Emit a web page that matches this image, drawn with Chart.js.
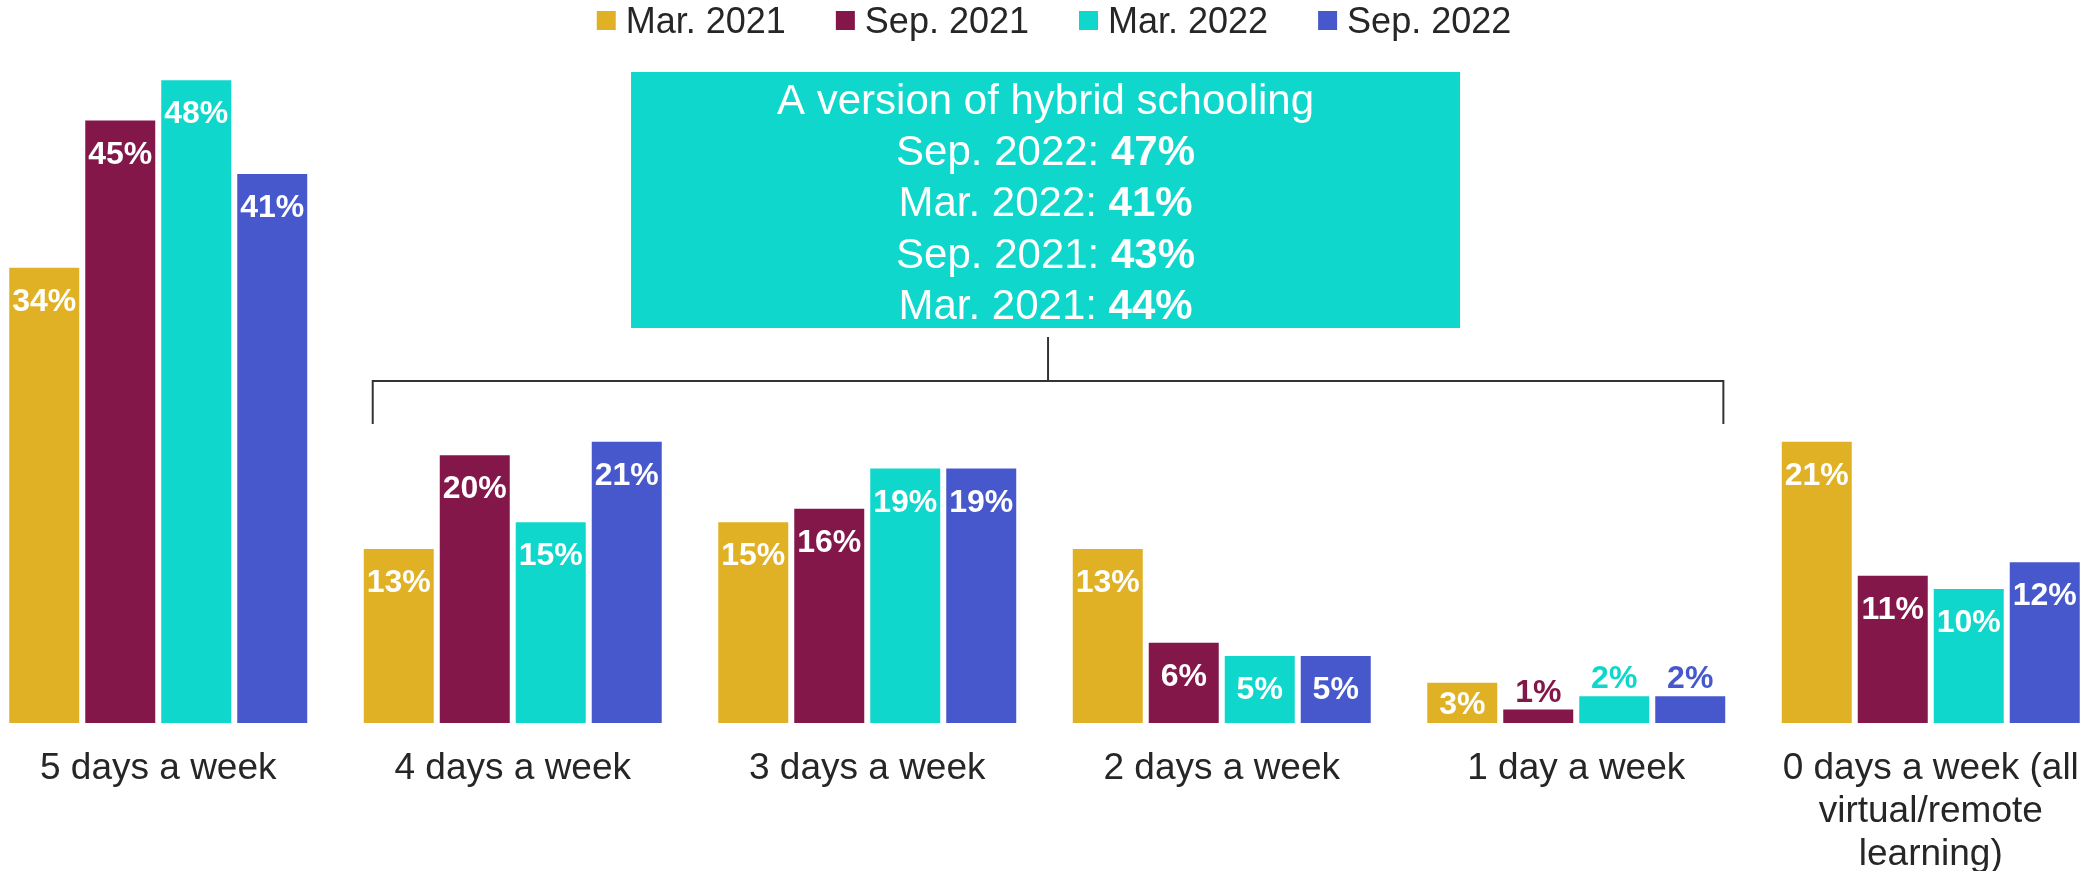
<!DOCTYPE html>
<html>
<head>
<meta charset="utf-8">
<script src="https://cdn.jsdelivr.net/npm/chart.js@4.4.1/dist/chart.umd.min.js"></script>
<style>
  html, body { margin: 0; padding: 0; background: #fff; overflow: hidden; }
  #wrap { position: relative; width: 2081px; height: 871px; overflow: hidden; }
  #grafico { position: absolute; left: -19px; top: 0; }
</style>
</head>
<body>
<div id="wrap">
  <canvas id="grafico" width="2127" height="871"></canvas>
</div>
<script>
const FONT = '"Liberation Sans", Arial, sans-serif';
const SHIFT = 19; // canvas starts 19px left of the page

const categories = [
    '5 days a week',
    '4 days a week',
    '3 days a week',
    '2 days a week',
    '1 day a week',
    ['0 days a week (all', 'virtual/remote', 'learning)']
];
const seriesNames = ['Mar. 2021', 'Sep. 2021', 'Mar. 2022', 'Sep. 2022'];
const seriesColors = ['#E1B125', '#84174A', '#0FD7CC', '#4758CC'];

const mar2021 = [34, 13, 15, 13, 3, 21];
const sep2021 = [45, 20, 16, 6, 1, 11];
const mar2022 = [48, 15, 19, 5, 2, 10];
const sep2022 = [41, 21, 19, 5, 2, 12];

const hybridTitle = 'A version of hybrid schooling';
const hybridPeriods = ['Sep. 2022', 'Mar. 2022', 'Sep. 2021', 'Mar. 2021'];
const hybridValues = [47, 41, 43, 44];

const ctx = document.getElementById('grafico');

const data = {
    labels: categories,
    datasets: [mar2021, sep2021, mar2022, sep2022].map((vals, i) => ({
        label: seriesNames[i],
        data: vals,
        backgroundColor: seriesColors[i],
        borderWidth: 0,
        categoryPercentage: 0.8575,
        barPercentage: 0.921
    }))
};

// value labels on top of / inside the bars
const barLabels = {
    id: 'barLabels',
    afterDatasetsDraw(chart) {
        const c = chart.ctx;
        c.save();
        c.font = 'bold 32px ' + FONT;
        c.textAlign = 'center';
        c.textBaseline = 'alphabetic';
        chart.data.datasets.forEach((ds, i) => {
            chart.getDatasetMeta(i).data.forEach((bar, j) => {
                const v = ds.data[j];
                const h = bar.base - bar.y;
                if (h >= 36) {
                    c.fillStyle = '#fff';
                    c.fillText(v + '%', bar.x, bar.y + Math.min(20, (h - 23) / 2) + 23);
                } else {
                    c.fillStyle = ds.backgroundColor;
                    c.fillText(v + '%', bar.x, bar.y - 8);
                }
            });
        });
        c.restore();
    }
};

// legend, hybrid box and bracket
const extras = {
    id: 'extras',
    afterDraw(chart) {
        const c = chart.ctx;
        const x = chart.scales.x;
        c.save();

        // legend
        c.font = '36px ' + FONT;
        c.textBaseline = 'alphabetic';
        c.textAlign = 'left';
        const widths = seriesNames.map(n => c.measureText(n).width);
        const total = widths.reduce((a, b) => a + b, 0) + seriesNames.length * 29 + (seriesNames.length - 1) * 50;
        let lx = 1054 + SHIFT - total / 2;
        seriesNames.forEach((n, i) => {
            c.fillStyle = seriesColors[i];
            c.fillRect(lx, 11, 19, 19);
            c.fillStyle = '#262626';
            c.fillText(n, lx + 29, 33);
            lx += 29 + widths[i] + 50;
        });

        // bracket over 4..1 days
        const step = x.getPixelForValue(1) - x.getPixelForValue(0);
        const left = x.getPixelForValue(1) - 0.395 * step;
        const right = x.getPixelForValue(4) + 0.415 * step;
        const mid = (left + right) / 2;
        c.strokeStyle = '#333';
        c.lineWidth = 2;
        c.beginPath();
        c.moveTo(left, 424);
        c.lineTo(left, 381);
        c.lineTo(right, 381);
        c.lineTo(right, 424);
        c.moveTo(mid, 381);
        c.lineTo(mid, 337);
        c.stroke();

        // box
        const cx = mid - 2.5;
        c.fillStyle = seriesColors[2];
        c.fillRect(cx - 414.5, 72, 829, 256);
        c.fillStyle = '#fff';
        c.textAlign = 'center';
        c.font = '42px ' + FONT;
        c.fillText(hybridTitle, cx, 114);
        c.textAlign = 'left';
        hybridPeriods.forEach((p, i) => {
            const a = p + ': ';
            const b = hybridValues[i] + '%';
            c.font = '42px ' + FONT;
            const wa = c.measureText(a).width;
            c.font = 'bold 42px ' + FONT;
            const wb = c.measureText(b).width;
            const sx = cx - (wa + wb) / 2;
            const by = 165 + i * 51.3;
            c.font = '42px ' + FONT;
            c.fillText(a, sx, by);
            c.font = 'bold 42px ' + FONT;
            c.fillText(b, sx + wa, by);
        });
        c.restore();
    }
};

const options = {
    responsive: false,
    animation: false,
    layout: { padding: 0 },
    plugins: {
        legend: { display: false },
        tooltip: { enabled: false }
    },
    scales: {
        x: {
            grid: { display: false, drawTicks: false },
            border: { display: false },
            ticks: {
                color: '#262626',
                font: { family: FONT, size: 37, lineHeight: 1.16 },
                padding: 24,
                maxRotation: 0,
                autoSkip: false
            },
            afterFit(axis) {
                axis.height = 148;
                axis.paddingLeft = 0;
                axis.paddingRight = 0;
            }
        },
        y: {
            display: false,
            min: 0,
            max: 54
        }
    }
};

const myChart = new Chart(ctx, {
    type: 'bar',
    data: data,
    options: options,
    plugins: [barLabels, extras]
});
</script>
</body>
</html>
